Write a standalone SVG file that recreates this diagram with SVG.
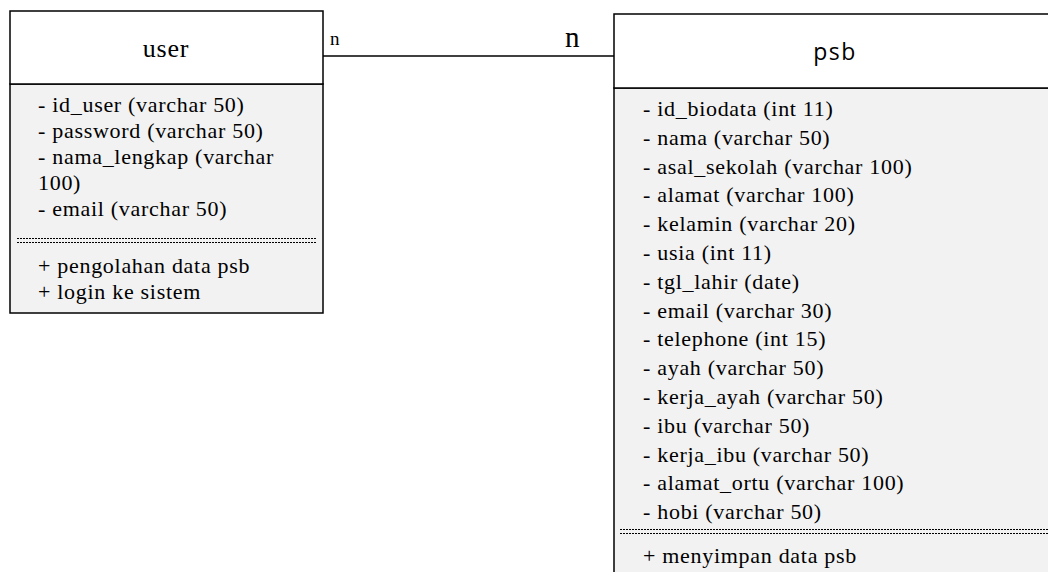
<svg xmlns="http://www.w3.org/2000/svg" width="1048" height="572" viewBox="0 0 1048 572">
  <style>
    .box { stroke: #000; stroke-width: 1.5; }
    .head { fill: #fff; }
    .body { fill: #f2f2f2; }
    .sep { stroke: #000; stroke-width: 1; stroke-dasharray: 2 1; fill: none; }
    text { font-family: 'Liberation Serif', 'DejaVu Serif', serif; font-size: 22px; letter-spacing: 0.7px; fill: #000; }
    .title { font-size: 26px; letter-spacing: 0.8px; text-anchor: middle; }
    .title2 { font-family: 'Open Sans', 'Noto Sans', sans-serif; font-size: 23px; letter-spacing: 1.5px; text-anchor: middle; }
    .edge { stroke: #000; stroke-width: 1.5; fill: none; }
  </style>

  <!-- association between the two classes, multiplicity n..n -->
  <g id="connectors">
    <line class="edge" x1="323" y1="56" x2="614" y2="56"/>
    <text x="330" y="45" style="font-size:19px;letter-spacing:0">n</text>
    <text x="565" y="47" style="font-size:29px;letter-spacing:0">n</text>
  </g>

  <g id="user">
    <rect class="box body" x="10" y="84" width="313" height="229"/>
    <rect class="box head" x="10" y="11" width="313" height="73"/>
    <text class="title" x="166" y="57">user</text>
    <text x="38" y="112">- id_user (varchar 50)</text>
    <text x="38" y="138">- password (varchar 50)</text>
    <text x="38" y="164">- nama_lengkap (varchar</text>
    <text x="38" y="190">100)</text>
    <text x="38" y="216">- email (varchar 50)</text>
    <line class="sep" x1="17" y1="238.5" x2="316" y2="238.5"/>
    <line class="sep" x1="17" y1="242.5" x2="316" y2="242.5"/>
    <text x="38" y="273">+ pengolahan data psb</text>
    <text x="38" y="299">+ login ke sistem</text>
  </g>

  <g id="psb">
    <rect class="box body" x="614" y="88" width="460" height="500"/>
    <rect class="box head" x="614" y="14" width="460" height="74"/>
    <text class="title2" x="835" y="60">psb</text>
    <text x="643" y="116">- id_biodata (int 11)</text>
    <text x="643" y="144.8">- nama (varchar 50)</text>
    <text x="643" y="173.6">- asal_sekolah (varchar 100)</text>
    <text x="643" y="202.4">- alamat (varchar 100)</text>
    <text x="643" y="231.2">- kelamin (varchar 20)</text>
    <text x="643" y="260">- usia (int 11)</text>
    <text x="643" y="288.8">- tgl_lahir (date)</text>
    <text x="643" y="317.6">- email (varchar 30)</text>
    <text x="643" y="346.4">- telephone (int 15)</text>
    <text x="643" y="375.2">- ayah (varchar 50)</text>
    <text x="643" y="404">- kerja_ayah (varchar 50)</text>
    <text x="643" y="432.8">- ibu (varchar 50)</text>
    <text x="643" y="461.6">- kerja_ibu (varchar 50)</text>
    <text x="643" y="490.4">- alamat_ortu (varchar 100)</text>
    <text x="643" y="519.2">- hobi (varchar 50)</text>
    <line class="sep" x1="620" y1="529.5" x2="1048" y2="529.5"/>
    <line class="sep" x1="620" y1="533.5" x2="1048" y2="533.5"/>
    <text x="643" y="563">+ menyimpan data psb</text>
  </g>
</svg>
